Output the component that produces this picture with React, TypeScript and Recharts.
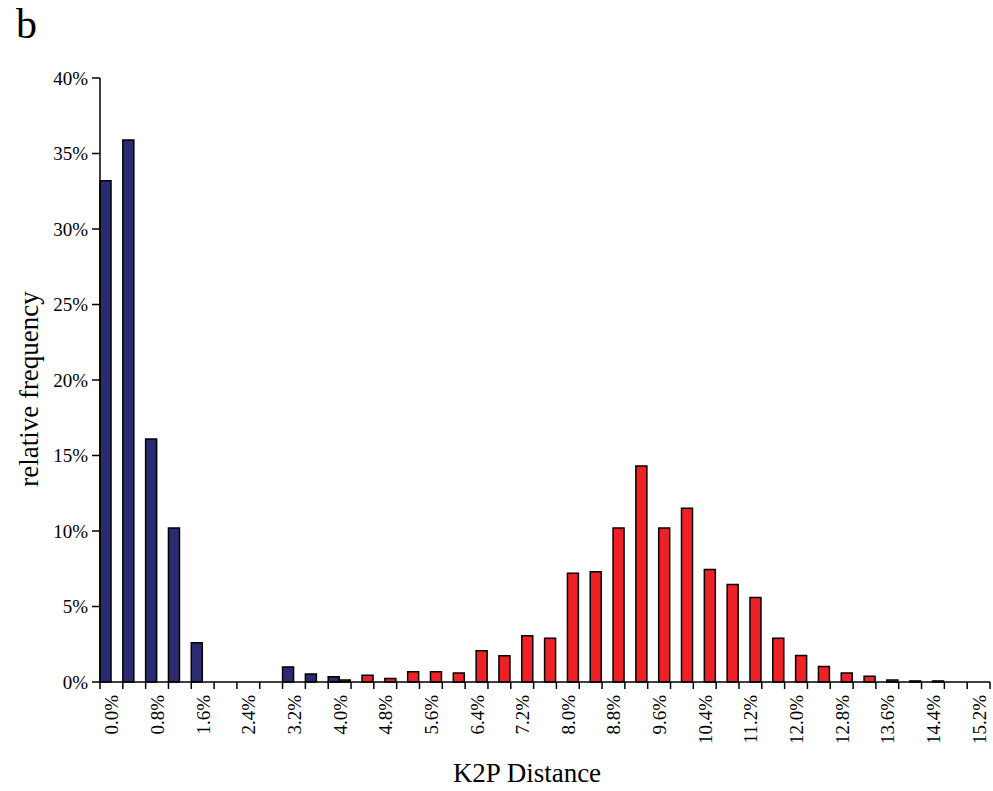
import React from 'react';
import { BarChart, Bar, XAxis, YAxis } from 'recharts';

// K2P distance classes, 0.4% wide
const distanceClasses = [
  '0.0%', '0.4%', '0.8%', '1.2%', '1.6%', '2.0%', '2.4%', '2.8%', '3.2%', '3.6%',
  '4.0%', '4.4%', '4.8%', '5.2%', '5.6%', '6.0%', '6.4%', '6.8%', '7.2%', '7.6%',
  '8.0%', '8.4%', '8.8%', '9.2%', '9.6%', '10.0%', '10.4%', '10.8%', '11.2%', '11.6%',
  '12.0%', '12.4%', '12.8%', '13.2%', '13.6%', '14.0%', '14.4%', '14.8%', '15.2%',
];

// relative frequency (%) of intraspecific comparisons
const intraspecific = [
  33.2, 35.9, 16.1, 10.2, 2.6, 0, 0, 0, 1.0, 0.53,
  0.35, 0, 0, 0, 0, 0, 0, 0, 0, 0,
  0, 0, 0, 0, 0, 0, 0, 0, 0, 0,
  0, 0, 0, 0, 0, 0, 0, 0, 0,
];

// relative frequency (%) of interspecific comparisons
const interspecific = [
  0, 0, 0, 0, 0, 0, 0, 0, 0, 0,
  0.13, 0.44, 0.24, 0.68, 0.68, 0.6, 2.07, 1.74, 3.06, 2.9,
  7.2, 7.3, 10.2, 14.3, 10.2, 11.5, 7.45, 6.45, 5.6, 2.9,
  1.75, 1.03, 0.6, 0.38, 0.13, 0.07, 0.07, 0, 0,
];

const yTicks = [0, 5, 10, 15, 20, 25, 30, 35, 40];

const W = 993;
const H = 791;
const MARGIN = { top: 78, right: 3, bottom: 0, left: 0 };
const Y_AXIS_W = 100;
const X_AXIS_H = 109;
const BAND = (W - MARGIN.left - MARGIN.right - Y_AXIS_W) / distanceClasses.length;
const FONT = '"Liberation Serif", "Times New Roman", serif';

const data = distanceClasses.map((label, i) => ({
  label,
  intra: intraspecific[i],
  inter: interspecific[i],
}));

// tick marks sit on class boundaries, labels on every other class
function DistanceTick(props: any) {
  const { x, y, payload, index } = props;
  const left = x - BAND / 2;
  const last = index === distanceClasses.length - 1;
  return (
    <g>
      <line x1={left} y1={y} x2={left} y2={y + 7} stroke="#000" strokeWidth={1.5} />
      {last && (
        <line x1={x + BAND / 2} y1={y} x2={x + BAND / 2} y2={y + 7} stroke="#000" strokeWidth={1.5} />
      )}
      {index % 2 === 0 && (
        <text
          x={x + 7}
          y={y + 13}
          transform={`rotate(-90 ${x + 7} ${y + 13})`}
          textAnchor="end"
          fontFamily={FONT}
          fontSize={19}
          fill="#000"
        >
          {payload.value}
        </text>
      )}
    </g>
  );
}

export default function App() {
  return (
    <div style={{ position: 'absolute', left: 0, top: 0, width: W, height: H, background: '#fff' }}>
      <BarChart
        width={W}
        height={H}
        data={data}
        margin={MARGIN}
        barCategoryGap={0}
        barGap={0}
      >
        <XAxis
          dataKey="label"
          interval={0}
          height={X_AXIS_H}
          tickSize={0}
          tickMargin={0}
          tickLine={false}
          axisLine={{ stroke: '#000', strokeWidth: 1.5 }}
          tick={<DistanceTick />}
        />
        <XAxis
          xAxisId="top"
          dataKey="label"
          orientation="top"
          height={0}
          tick={false}
          tickLine={false}
          axisLine={{ stroke: '#8c8c8c', strokeWidth: 1.5 }}
        />
        <YAxis
          width={Y_AXIS_W}
          domain={[0, 40]}
          ticks={yTicks}
          interval={0}
          tickSize={8}
          tickMargin={4}
          tickFormatter={(v: number) => `${v}%`}
          axisLine={{ stroke: '#000', strokeWidth: 1.5 }}
          tickLine={{ stroke: '#000', strokeWidth: 1.5 }}
          tick={{ fontFamily: FONT, fontSize: 19, fill: '#000' }}
        />
        <YAxis
          yAxisId="right"
          orientation="right"
          width={0}
          domain={[0, 40]}
          tick={false}
          tickLine={false}
          axisLine={{ stroke: '#8c8c8c', strokeWidth: 1.5 }}
        />
        <Bar dataKey="intra" fill="#2a2b70" stroke="#000" strokeWidth={1.5} isAnimationActive={false} />
        <Bar dataKey="inter" fill="#ee2226" stroke="#000" strokeWidth={1.5} isAnimationActive={false} />
      </BarChart>
      <svg
        width={W}
        height={H}
        style={{ position: 'absolute', left: 0, top: 0, pointerEvents: 'none' }}
      >
        <text x={16} y={38} fontFamily={FONT} fontSize={42} fill="#000">b</text>
        <text
          x={38}
          y={389}
          transform="rotate(-90 38 389)"
          textAnchor="middle"
          fontFamily={FONT}
          fontSize={27}
          fill="#000"
        >
          relative frequency
        </text>
        <text x={527} y={782} textAnchor="middle" fontFamily={FONT} fontSize={27} fill="#000">
          K2P Distance
        </text>
      </svg>
    </div>
  );
}
